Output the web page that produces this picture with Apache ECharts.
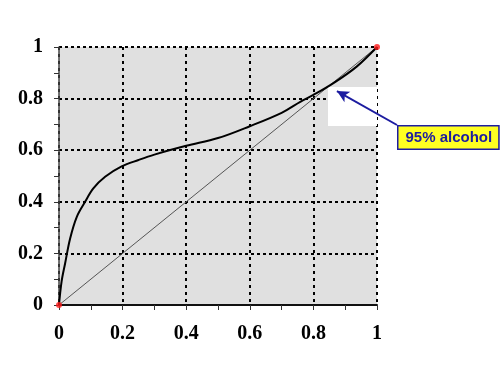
<!DOCTYPE html>
<html><head><meta charset="utf-8">
<script src="https://cdn.jsdelivr.net/npm/echarts@6/dist/echarts.min.js"></script>
<style>html,body{margin:0;padding:0;background:#fff}#c{width:500px;height:375px}</style>
</head><body><div id="c"></div>
<script>
var curveX = [0, 0.008, 0.019, 0.035, 0.056, 0.082, 0.108, 0.145, 0.197, 0.25, 0.3, 0.4, 0.5, 0.6, 0.7, 0.76, 0.8, 0.863, 0.936, 1];
var curveY = [0, 0.09, 0.16, 0.258, 0.342, 0.4, 0.452, 0.497, 0.537, 0.562, 0.583, 0.617, 0.647, 0.693, 0.745, 0.788, 0.814, 0.86, 0.924, 1];
var diagX = [0, 1];
var diagY = [0, 1];
var endPointsX = [0, 1];
var endPointsY = [0, 1];
var tickLabels = ['0', '0.2', '0.4', '0.6', '0.8', '1'];
var annotationText = '95% alcohol';
var azeoPoint = [0.874, 0.829];

function zip(a, b) { return a.map(function (v, i) { return [v, b[i]]; }); }

var chart = echarts.init(document.getElementById('c'));
var labelFont = { fontFamily: 'Liberation Serif', fontWeight: 'bold', fontSize: 20, color: '#000' };
function fmt(v) { var s = Math.round(v * 10) / 10; return tickLabels.indexOf(String(s)) >= 0 ? String(s) : ''; }
chart.setOption({
  animation: false,
  grid: { left: 59, right: 123, top: 47, bottom: 70, show: true, backgroundColor: '#e0e0e0', borderWidth: 0 },
  xAxis: {
    type: 'value', min: 0, max: 1, interval: 0.2,
    axisLine: { lineStyle: { color: '#111', width: 2 } },
    axisTick: { show: true, length: 5, lineStyle: { color: '#333', width: 1 } },
    minorTick: { show: true, splitNumber: 2, length: 5, lineStyle: { color: '#333', width: 1 } },
    axisLabel: Object.assign({ margin: 19, formatter: fmt }, labelFont),
    splitLine: { show: true, lineStyle: { color: '#000', width: 2, type: [3, 4] } }
  },
  yAxis: {
    type: 'value', min: 0, max: 1, interval: 0.2,
    axisLine: { show: true, lineStyle: { color: '#444', width: 1.5 } },
    axisTick: { show: true, length: 5, lineStyle: { color: '#333', width: 1 } },
    minorTick: { show: true, splitNumber: 2, length: 5, lineStyle: { color: '#333', width: 1 } },
    axisLabel: Object.assign({ margin: 16, formatter: fmt }, labelFont),
    splitLine: { show: true, lineStyle: { color: '#000', width: 2, type: [3, 3] } }
  },
  series: [
    {
      type: 'line', data: zip(diagX, diagY), symbol: 'none',
      lineStyle: { color: '#555', width: 1 }, z: 3,
      markArea: { silent: true, itemStyle: { color: '#ffffff' }, data: [[{ coord: [0.846, 0.694] }, { coord: [1, 0.845] }]] }
    },
    {
      type: 'line', data: zip(curveX, curveY), symbol: 'none', smooth: 0.35,
      lineStyle: { color: '#000', width: 2 }, z: 4,
      markLine: {
        silent: true, symbol: ['none', 'arrow'], symbolSize: [9, 12],
        lineStyle: { color: '#1c1ca0', width: 2, type: 'solid' }, label: { show: false },
        data: [[{ x: 397, y: 125 }, { coord: azeoPoint }]]
      }
    },
    {
      type: 'scatter', data: zip(endPointsX, endPointsY), symbol: 'circle', symbolSize: 6,
      itemStyle: { color: '#ff1a1a' }, z: 5, clip: false
    }
  ],
  graphic: [
    {
      type: 'text', left: 397, top: 125, z: 10,
      style: {
        text: annotationText, fontFamily: 'Liberation Sans', fontWeight: 'bold', fontSize: 15,
        fill: '#1c1ca0', backgroundColor: '#ffff22', borderColor: '#1c1ca0', borderWidth: 1.5,
        padding: [4, 6, 3, 7]
      }
    }
  ]
});
</script></body></html>
